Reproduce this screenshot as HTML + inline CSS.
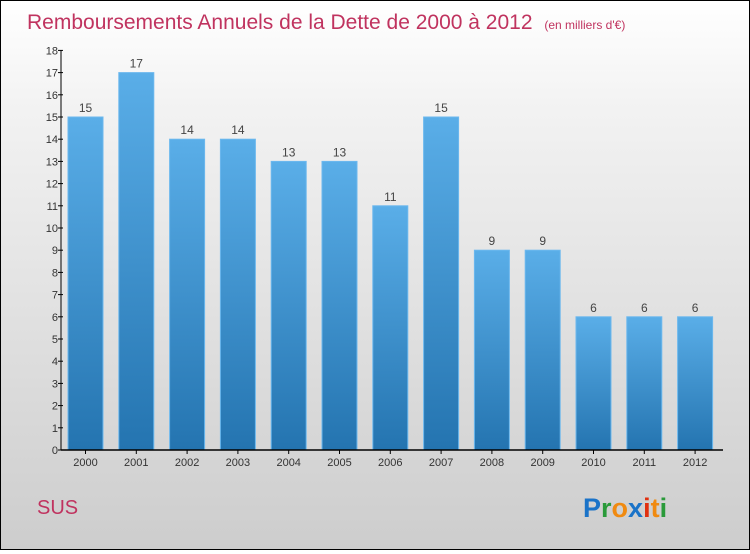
<!DOCTYPE html>
<html><head><meta charset="utf-8"><style>
body{margin:0;width:750px;height:550px;overflow:hidden}
#c{position:relative;width:748px;height:548px;border:1px solid #000;background:linear-gradient(#fff,#f2f2f2 20%,#cdcdcd);font-family:"Liberation Sans",sans-serif}
</style></head><body>
<div id="c">
<svg id="s" width="748" height="548">
<defs><linearGradient id="g" x1="0" y1="0" x2="0" y2="1"><stop offset="0" stop-color="#5aaee8"/><stop offset="1" stop-color="#2474b0"/></linearGradient></defs>
<text x="26" y="28" font-size="21" fill="#c0335f">Remboursements Annuels de la Dette de 2000 à 2012 <tspan font-size="12" dx="6">(en milliers d'€)</tspan></text>
<text x="36" y="513" font-size="20" fill="#c0335f">SUS</text>
<text x="582" y="516" font-size="27" font-weight="bold"><tspan fill="#1a73c8">P</tspan><tspan fill="#2a9a3a">r</tspan><tspan fill="#f08a10">o</tspan><tspan fill="#1a73c8">x</tspan><tspan fill="#e03010">i</tspan><tspan fill="#f08a10">t</tspan><tspan fill="#2a9a3a">i</tspan></text>
<g id="plot"></g>
</svg></div>
<script>
const years=["2000","2001","2002","2003","2004","2005","2006","2007","2008","2009","2010","2011","2012"];
const values=[15,17,14,14,13,13,11,15,9,9,6,6,6];
const yTicks=[0,1,2,3,4,5,6,7,8,9,10,11,12,13,14,15,16,17,18];
const NS="http://www.w3.org/2000/svg",p=document.getElementById('plot');
const y0=449,pxu=22.2,x0=84.5,step=50.8,bw=35,ax=60;
const Y=v=>y0-v*pxu, X=i=>x0+i*step;
function mk(t,a,txt){const e=document.createElementNS(NS,t);for(const k in a)e.setAttribute(k,a[k]);if(txt!==undefined)e.textContent=txt;p.appendChild(e);return e;}
values.forEach((v,i)=>{
 const r=mk('rect',{x:X(i)-bw/2,y:Y(v),width:bw,height:y0-Y(v),fill:'url(#g)',stroke:'#6cb8ee','stroke-width':1});
 
 
 const t=mk('text',{x:X(i),y:Y(v)-5,'text-anchor':'middle','font-size':12,fill:'#444'},v);
 
 
 const l=mk('text',{x:X(i),y:y0+16,'text-anchor':'middle','font-size':11,fill:'#333'},years[i]);
 
 
 const tk=mk('line',{x1:X(i),x2:X(i),y1:y0,y2:y0+4,stroke:'#000'});
 
 
});
yTicks.forEach(v=>{
 const t=mk('text',{x:ax-3,y:Y(v)+4,'text-anchor':'end','font-size':11,fill:'#333'},v);
 
 
 const l=mk('line',{x1:ax-3,x2:ax+2,y1:Y(v),y2:Y(v),stroke:'#000'});
 
 
});
const ya=mk('line',{x1:ax,x2:ax,y1:Y(18),y2:y0,stroke:'#000'});


const xa=mk('line',{x1:ax,x2:722,y1:y0,y2:y0,stroke:'#000','stroke-width':1.5});


</script>
</body></html>
